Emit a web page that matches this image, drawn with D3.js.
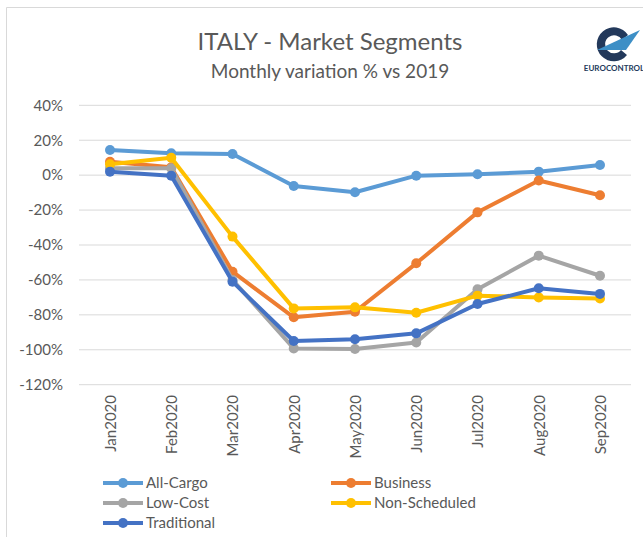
<!DOCTYPE html>
<html lang="en">
<head>
	<meta charset="UTF-8">
	<title>ITALY - Market Segments</title>
	<script src="https://cdn.jsdelivr.net/npm/d3@7/dist/d3.min.js"></script>
	<style>
		body { margin: 0; background: #fff; }
		text { font-family: Lato, "Open Sans", sans-serif; }
	</style>
</head>
<body>
<script>
	var months = ['Jan2020', 'Feb2020', 'Mar2020', 'Apr2020', 'May2020', 'Jun2020', 'Jul2020', 'Aug2020', 'Sep2020'];
	var yTicks = [0.4, 0.2, 0, -0.2, -0.4, -0.6, -0.8, -1.0, -1.2];

	var allCargo = [0.144, 0.125, 0.121, -0.062, -0.098, -0.003, 0.005, 0.02, 0.058];
	var business = [0.077, 0.045, -0.553, -0.814, -0.782, -0.505, -0.213, -0.031, -0.115];
	var lowCost = [0.04, 0.04, -0.60, -0.992, -0.996, -0.958, -0.654, -0.461, -0.576];
	var nonScheduled = [0.062, 0.10, -0.352, -0.763, -0.757, -0.788, -0.69, -0.70, -0.706];
	var traditional = [0.02, -0.003, -0.61, -0.95, -0.94, -0.906, -0.738, -0.648, -0.68];

	var seriesNames = ['All-Cargo', 'Business', 'Low-Cost', 'Non-Scheduled', 'Traditional'];
	var seriesColors = ['#5B9BD5', '#ED7D31', '#A5A5A5', '#FFC000', '#4472C4'];
	var seriesValues = [allCargo, business, lowCost, nonScheduled, traditional];

	var width = 643,
		height = 537;

	var svg = d3.select('body').append('svg')
		.attr('width', width)
		.attr('height', height);

	// chart frame
	svg.append('path')
		.attr('d', 'M6.5,' + height + 'V7.5H' + width)
		.attr('fill', 'none')
		.attr('stroke', '#d9d9d9')
		.attr('stroke-width', 1);

	svg.append('text')
		.attr('x', 330).attr('y', 50)
		.attr('text-anchor', 'middle')
		.attr('font-size', 24)
		.attr('fill', '#595959')
		.text('ITALY - Market Segments');

	svg.append('text')
		.attr('x', 330).attr('y', 78)
		.attr('text-anchor', 'middle')
		.attr('font-size', 19)
		.attr('fill', '#595959')
		.text('Monthly variation % vs 2019');

	// logo
	var logo = svg.append('g').attr('transform', 'translate(614,44)');
	logo.append('path')
		.attr('d', 'M14,-9 A17,17 0 1 0 13,11 L7,6 A9,9 0 1 1 8,-4 Z')
		.attr('fill', '#23395b');
	logo.append('path')
		.attr('d', 'M-17,6 L26,-14 L12,6 Z')
		.attr('fill', '#3d8fc6');
	logo.append('text')
		.attr('x', 0).attr('y', 27)
		.attr('text-anchor', 'middle')
		.attr('font-size', 8)
		.attr('font-weight', 'bold')
		.attr('fill', '#23395b')
		.text('EUROCONTROL');

	var x = d3.scalePoint()
		.domain(months)
		.range([110, 600]);

	var y = d3.scaleLinear()
		.domain([-1.2, 0.4])
		.range([384.7, 105.3]);

	// gridlines
	svg.append('g')
		.selectAll('line')
		.data(yTicks)
		.enter().append('line')
		.attr('x1', 79).attr('x2', 631)
		.attr('y1', d => y(d)).attr('y2', d => y(d))
		.attr('stroke', '#d9d9d9')
		.attr('stroke-width', 1);

	var yAxis = d3.axisLeft(y)
		.tickValues(yTicks)
		.tickSize(0)
		.tickPadding(0)
		.tickFormat(d3.format('.0%'));

	var yg = svg.append('g')
		.attr('transform', 'translate(63,0)')
		.call(yAxis);
	yg.select('.domain').remove();
	yg.selectAll('text')
		.attr('font-size', 15)
		.attr('fill', '#595959')
		.style('font-family', 'Lato, "Open Sans", sans-serif')
		.text(d => d3.format('.0%')(d).replace('−', '-'));

	var xAxis = d3.axisBottom(x).tickSize(0).tickPadding(0);
	var xg = svg.append('g')
		.attr('transform', 'translate(0,395)')
		.call(xAxis);
	xg.select('.domain').remove();
	xg.selectAll('text')
		.attr('font-size', 15)
		.attr('fill', '#595959')
		.style('font-family', 'Lato, "Open Sans", sans-serif')
		.attr('text-anchor', 'end')
		.attr('transform', 'rotate(-90)')
		.attr('x', 0)
		.attr('y', 0)
		.attr('dx', 0)
		.attr('dy', '0.35em');

	var line = d3.line()
		.x((d, i) => x(months[i]))
		.y(d => y(d));

	seriesValues.forEach(function(vals, k) {
		var g = svg.append('g');
		g.append('path')
			.attr('d', line(vals))
			.attr('fill', 'none')
			.attr('stroke', seriesColors[k])
			.attr('stroke-width', 4)
			.attr('stroke-linejoin', 'round');
		g.selectAll('circle')
			.data(vals)
			.enter().append('circle')
			.attr('cx', (d, i) => x(months[i]))
			.attr('cy', d => y(d))
			.attr('r', 5)
			.attr('fill', seriesColors[k]);
	});

	// legend
	var legendPos = [[103, 483], [331, 483], [103, 503], [331, 503], [103, 523]];
	var legend = svg.append('g')
		.selectAll('g')
		.data(seriesNames)
		.enter().append('g')
		.attr('transform', (d, i) => 'translate(' + legendPos[i][0] + ',' + legendPos[i][1] + ')');
	legend.append('line')
		.attr('x1', 0).attr('x2', 40)
		.attr('y1', 0).attr('y2', 0)
		.attr('stroke', (d, i) => seriesColors[i])
		.attr('stroke-width', 4);
	legend.append('circle')
		.attr('cx', 20).attr('cy', 0).attr('r', 5)
		.attr('fill', (d, i) => seriesColors[i]);
	legend.append('text')
		.attr('x', 43).attr('y', 0)
		.attr('dy', '0.35em')
		.attr('font-size', 15)
		.attr('fill', '#595959')
		.text(d => d);
</script>
</body>
</html>
